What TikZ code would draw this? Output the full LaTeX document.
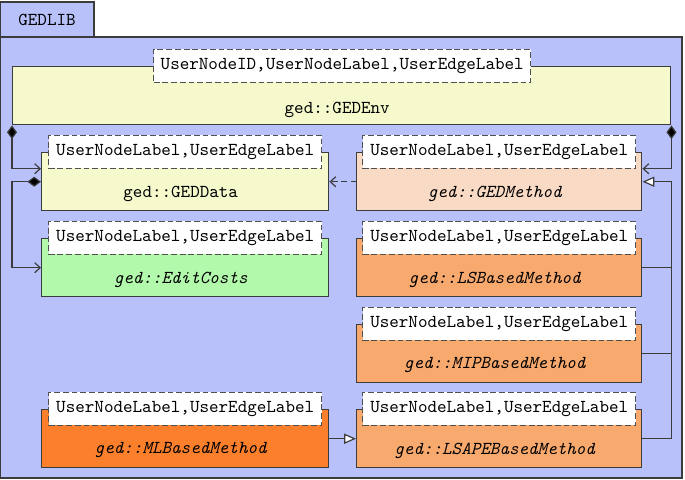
\documentclass[tikz,border=0pt]{standalone}
\usetikzlibrary{arrows.meta,calc}
\definecolor{pkgc}{HTML}{B8C1FA}
\definecolor{linec}{HTML}{3C3C3C}
\definecolor{dashc}{HTML}{505050}
\definecolor{yelc}{HTML}{F6F9CC}
\definecolor{peachc}{HTML}{F9DAC4}
\definecolor{greenc}{HTML}{B2F9AB}
\definecolor{orc}{HTML}{F8A96E}
\definecolor{mlc}{HTML}{FC7F2C}
\newcommand\pu{0.5495pt}
\tikzset{
  pkgbox/.style={draw=linec, fill=pkgc, line width=0.8pt},
  cls/.style={draw=linec, line width=0.8pt, anchor=north west, inner sep=0pt, minimum height={58*\pu}},
  tmpl/.style={draw=dashc, dash pattern=on 3.2pt off 1.6pt, fill=white, line width=0.75pt, inner sep=0pt, minimum height={33*\pu}, font=\ttfamily},
  cname/.style={font=\ttfamily, inner sep=1pt},
  aname/.style={font=\ttfamily\itshape, inner sep=1pt},
  conn/.style={draw=linec, line width=0.65pt},
  comp/.style={conn, {Diamond[length=7.5pt,width=5.5pt,fill=black]}-{Straight Barb[length=3pt,width=5.5pt]}},
  dep/.style={conn, dash pattern=on 3pt off 2pt, -{Straight Barb[length=3pt,width=5.5pt]}},
  inh/.style={conn, -{Triangle[open,length=6.5pt,width=5.5pt,fill=white]}},
}
\begin{document}
\begin{tikzpicture}[x=\pu,y=-\pu]
\useasboundingbox (0,0) rectangle (685,480);
% package
\draw[pkgbox] (0,2) rectangle (94,37);
\node[font=\ttfamily] (pkg) at (47,20) {GEDLIB};
\draw[pkgbox] (0,37) rectangle (682,478);
% classes
\node[cls, fill=yelc, minimum width={658*\pu}] (env) at (12,66) {};
\node[cls, fill=yelc, minimum width={287*\pu}] (data) at (41,152) {};
\node[cls, fill=peachc, minimum width={285*\pu}] (method) at (356,152) {};
\node[cls, fill=greenc, minimum width={287*\pu}] (costs) at (41,238) {};
\node[cls, fill=orc, minimum width={285*\pu}] (ls) at (356,238) {};
\node[cls, fill=orc, minimum width={285*\pu}] (mip) at (356,324) {};
\node[cls, fill=mlc, minimum width={287*\pu}] (ml) at (41,409) {};
\node[cls, fill=orc, minimum width={285*\pu}] (lsape) at (356,409) {};
% templates
\node[tmpl, minimum width={377*\pu}] (envT) at ([xshift=0.5*\pu]env.north) {UserNodeID,UserNodeLabel,UserEdgeLabel};
\foreach \c in {data,method,costs,ls,mip,ml,lsape}{
  \node[tmpl, minimum width={273*\pu}] (\c T) at (\c.north) {UserNodeLabel,UserEdgeLabel};
}
% names
\node[cname] (envN) at ($(env.south)+(-4.5,-16)$) {ged::GEDEnv};
\node[cname] (dataN) at ($(data.south)+(-4.5,-18)$) {ged::GEDData};
\node[aname] (methodN) at ($(method.south)+(-4.5,-18)$) {ged::GEDMethod};
\node[aname] (costsN) at ($(costs.south)+(-4.5,-18)$) {ged::EditCosts};
\node[aname] (lsN) at ($(ls.south)+(-4.5,-18)$) {ged::LSBasedMethod};
\node[aname] (mipN) at ($(mip.south)+(-4.5,-18)$) {ged::MIPBasedMethod};
\node[aname] (mlN) at ($(ml.south)+(-4.5,-18)$) {ged::MLBasedMethod};
\node[aname] (lsapeN) at ($(lsape.south)+(-4.5,-18)$) {ged::LSAPEBasedMethod};
% connectors
\draw[comp] (env.south west) |- ($(data.west)+(0,-13)$);
\draw[comp] (env.south east) |- ($(method.east)+(0,-13)$);
\draw[comp] (data.west) -- ++(-29,0) |- (costs.west);
\draw[dep] (method.west) -- (data.east);
\draw[inh] (lsape.east) -- ++(29,0) coordinate (j) |- (method.east);
\draw[conn] (ls.east) -- (ls.east -| j);
\draw[conn] (mip.east) -- (mip.east -| j);
\draw[inh] (ml.east) -- (lsape.west);
\end{tikzpicture}
\end{document}
